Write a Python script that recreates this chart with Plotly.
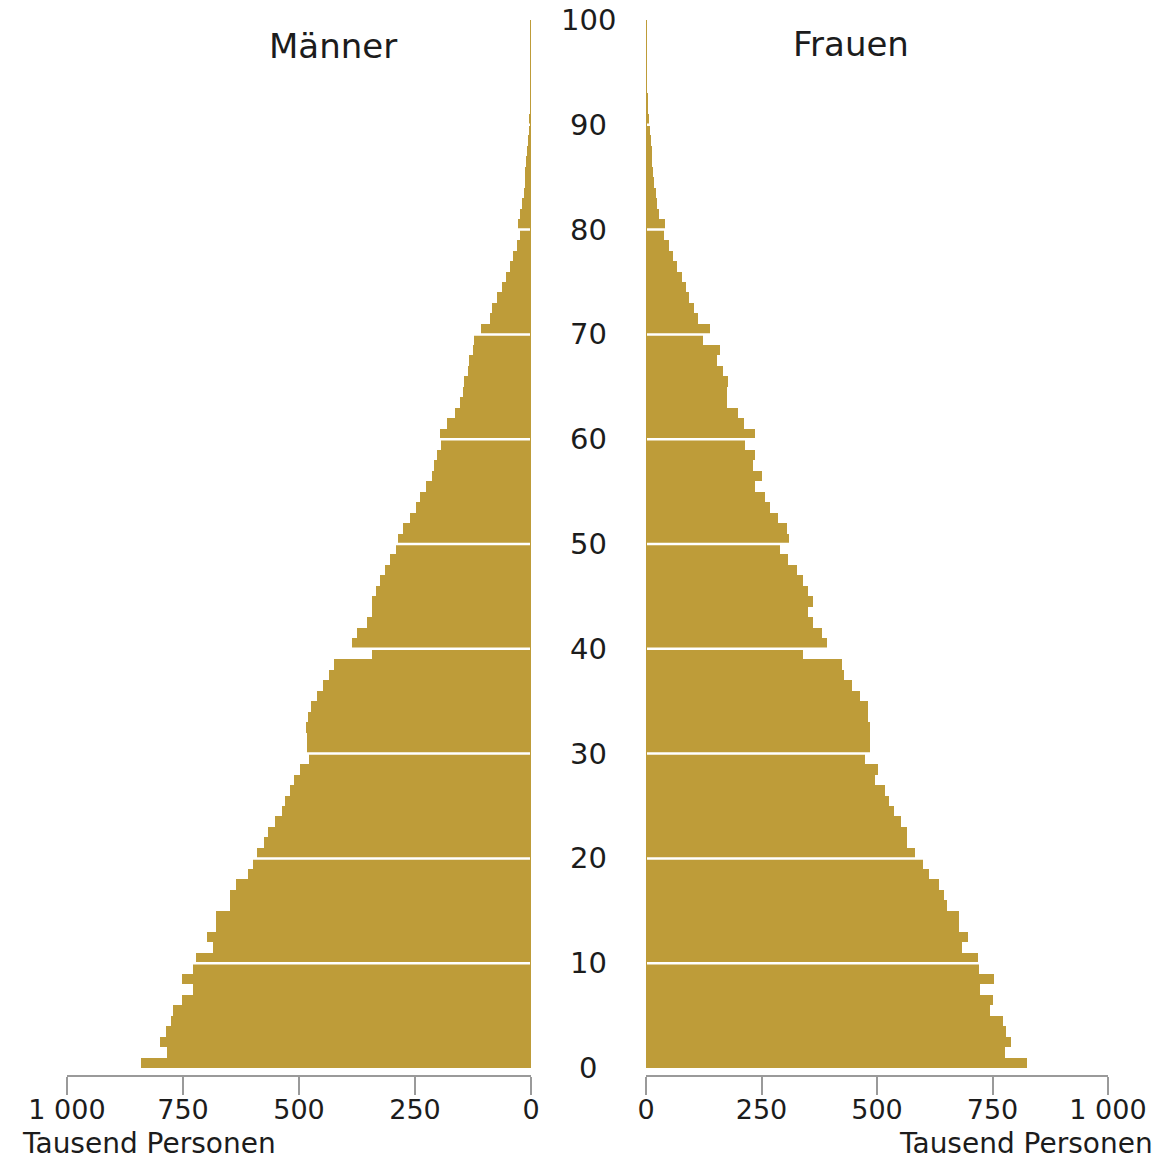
import plotly.graph_objects as go

ages = list(range(0, 101))

men = [841, 785, 800, 787, 776, 772, 752, 728, 752, 729,
       722, 686, 698, 679, 679, 649, 648, 636, 609, 600,
       590, 575, 566, 552, 536, 530, 520, 510, 498, 478,
       483, 483, 484, 480, 475, 462, 448, 436, 425, 342,
       386, 374, 353, 342, 342, 335, 325, 315, 304, 292,
       286, 276, 261, 248, 239, 226, 214, 208, 203, 195,
       196, 182, 164, 153, 146, 144, 135, 133, 126, 123,
       108, 88, 83, 74, 63, 54, 45, 38, 31, 24,
       29, 24, 19, 16, 14, 12, 10, 8, 6.5, 5,
       4, 3.2, 2.5, 2, 1.5, 1.1, 0.8, 0.5, 0.4, 0.3, 0.2]

women = [824, 777, 791, 779, 772, 745, 750, 724, 753, 721,
         719, 685, 698, 678, 678, 651, 645, 635, 613, 600,
         582, 564, 564, 552, 537, 527, 517, 496, 503, 474,
         484, 485, 485, 480, 480, 463, 445, 428, 425, 340,
         392, 382, 361, 351, 362, 350, 340, 326, 308, 289,
         310, 305, 286, 268, 258, 236, 250, 231, 236, 214,
         236, 212, 200, 176, 176, 178, 167, 153, 160, 123,
         139, 113, 104, 94, 87, 77, 68, 58, 50, 40,
         41, 29, 24, 22, 18, 16, 14, 12, 10, 8,
         6, 5, 4, 3, 2.3, 1.7, 1.2, 0.8, 0.5, 0.3, 0.2]

x_tickvals = [0, 250, 500, 750, 1000]
x_ticktext = ["0", "250", "500", "750", "1 000"]
age_ticks = [0, 10, 20, 30, 40, 50, 60, 70, 80, 90, 100]
grid_ages = [10, 20, 30, 40, 50, 60, 70, 80, 90]

GOLD = "#BE9C39"
TXT = "#1c1c1c"
AXC = "#9a9a9a"
FONT = "DejaVu Sans"

W, H = 1166, 1161


def px(x):
    return x / W


def py(y):
    return (H - y) / H


fig = go.Figure()
fig.add_trace(go.Bar(y=ages, x=men, orientation="h", width=1, offset=0,
                     marker=dict(color=GOLD, line=dict(width=0)),
                     xaxis="x", yaxis="y", name="Männer", showlegend=False))
fig.add_trace(go.Bar(y=ages, x=women, orientation="h", width=1, offset=0,
                     marker=dict(color=GOLD, line=dict(width=0)),
                     xaxis="x2", yaxis="y", name="Frauen", showlegend=False))

axis_common = dict(
    tickvals=x_tickvals, ticktext=x_ticktext, ticks="outside", ticklen=18,
    tickwidth=2, tickcolor=AXC, showline=True, linecolor=AXC, linewidth=2,
    showgrid=False, zeroline=False, tickfont=dict(family=FONT, size=27, color=TXT),
    anchor="y", fixedrange=True, automargin=False, ticklabelstandoff=-8,
)

fig.update_layout(
    width=W, height=H,
    margin=dict(l=0, r=0, t=0, b=0, autoexpand=False),
    paper_bgcolor="white", plot_bgcolor="white",
    bargap=0,
    barmode="overlay",
    xaxis=dict(domain=[px(67), px(531)], range=[1000, 0], **axis_common),
    xaxis2=dict(domain=[px(646), px(1108)], range=[0, 1000], **axis_common),
    yaxis=dict(domain=[py(1075), py(20)], range=[-0.67, 100],
               showticklabels=False, showgrid=False, zeroline=False,
               showline=False, fixedrange=True, automargin=False),
)

shapes = []
for xr in ["x", "x2"]:
    for g in grid_ages:
        shapes.append(dict(type="line", xref=xr, yref="y", x0=0, x1=1000,
                           y0=g, y1=g, line=dict(color="white", width=2.5),
                           layer="above"))
    shapes.append(dict(type="line", xref=xr, yref="y", x0=0, x1=0, y0=0, y1=100,
                       line=dict(color=GOLD, width=2), layer="above"))
fig.update_layout(shapes=shapes)

annotations = []
for a in age_ticks:
    annotations.append(dict(x=px(588), xref="paper", y=a, yref="y", text=str(a),
                            showarrow=False, xanchor="center", yanchor="middle",
                            font=dict(family=FONT, size=29, color=TXT)))
annotations += [
    dict(x=px(333), y=py(46), xref="paper", yref="paper", text="Männer",
         showarrow=False, xanchor="center", yanchor="middle",
         font=dict(family=FONT, size=34, color=TXT)),
    dict(x=px(851), y=py(44), xref="paper", yref="paper", text="Frauen",
         showarrow=False, xanchor="center", yanchor="middle",
         font=dict(family=FONT, size=34, color=TXT)),
    dict(x=px(20), y=py(1143), xref="paper", yref="paper",
         text="Tausend Personen", showarrow=False, xanchor="left", yanchor="middle",
         font=dict(family=FONT, size=28, color=TXT)),
    dict(x=px(1155), y=py(1143), xref="paper", yref="paper",
         text="Tausend Personen", showarrow=False, xanchor="right", yanchor="middle",
         font=dict(family=FONT, size=28, color=TXT)),
]
fig.update_layout(annotations=annotations)

fig.write_html("out.html",
               config={"displayModeBar": False, "staticPlot": True},
               post_script="document.body.style.margin='0';document.body.style.padding='0';")
